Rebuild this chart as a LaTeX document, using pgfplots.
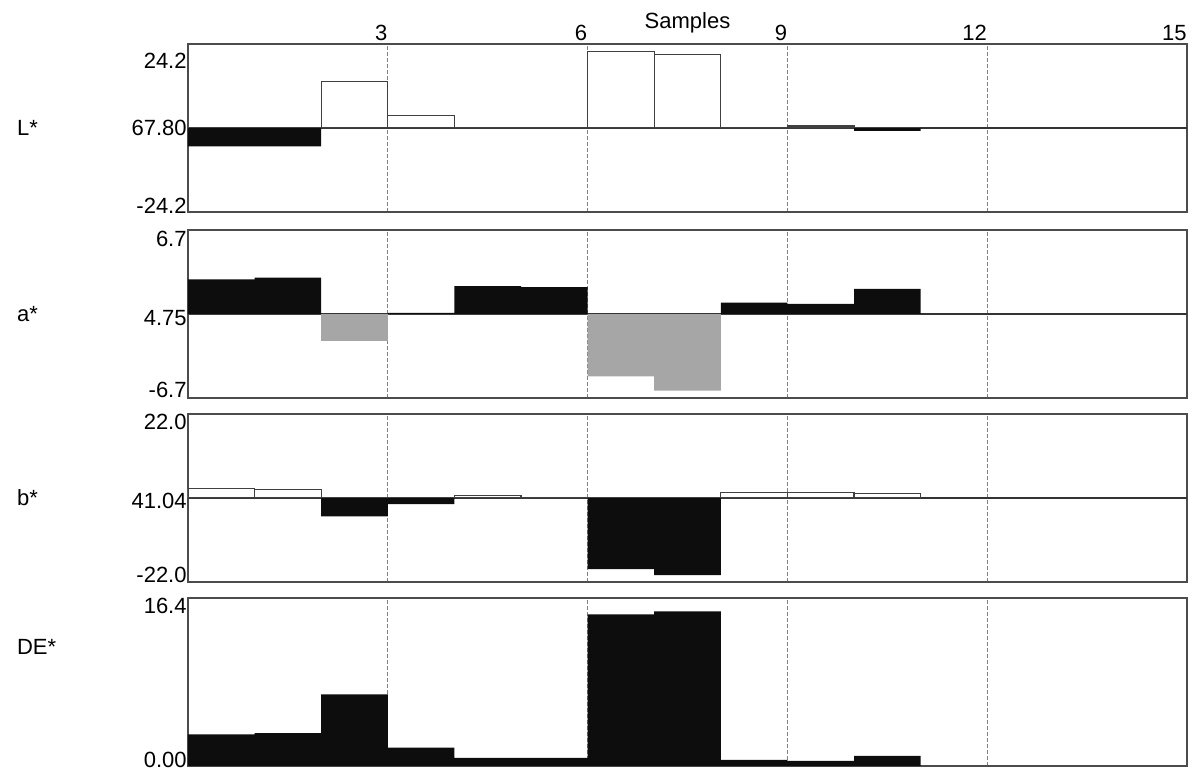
\documentclass[border=0pt]{standalone}
\usepackage{pgfplots}
\pgfplotsset{compat=1.18}
\usepackage{fontspec}
\setmainfont{Liberation Sans}
\newcommand{\tl}[2]{\smash{\raisebox{\dimexpr#1-3.9pt\relax}{#2}}}
\pgfplotsset{
  panel/.style={
    scale only axis, width=499.5pt, height=84pt,
    xmin=0, xmax=15,
    xtick={3,6,9,12,15}, xticklabels={},
    major tick length=0pt,
    xmajorgrids,
    major grid style={gray, line width=0.45pt, dash pattern=on 2pt off 1pt},
    axis line style={gray!60!black, line width=0.7pt},
    tick label style={font=\fontsize{11}{13}\selectfont},
    yticklabel style={inner sep=0pt, anchor=east, xshift=-0.5pt},
    every axis y label/.style={at={(rel axis cs:0,0.5)}, anchor=west, xshift=-89pt, font=\fontsize{11}{13}\selectfont},
  },
  zline/.style={gray!40!black, line width=0.8pt},
  bardark/.style={ybar interval, fill=black!95, draw=none},
  barwhite/.style={ybar interval, fill=white, draw=black!75, line width=0.6pt},
  bargray/.style={ybar interval, fill=gray!70, draw=none},
}
\begin{document}
\begin{tikzpicture}
\useasboundingbox (-94pt,22pt) rectangle (502pt,-363.5pt);
% L*
\begin{axis}[panel, at={(0pt,0pt)}, anchor=north west,
  ymin=-24.2, ymax=24.2,
  ytick={-24.2,0,24.2}, yticklabels={\tl{3.3pt}{-24.2},\tl{0pt}{67.80},\tl{-8.5pt}{24.2}},
  xticklabel pos=upper, xticklabels={3,6,9,12,15},
  xticklabel style={anchor=south east, inner sep=0pt, yshift=1.5pt},
  xlabel={Samples}, xlabel style={at={(rel axis cs:0.5,1)}, anchor=base, yshift=7.9pt, font=\fontsize{11}{13}\selectfont},
  ylabel={L*}]
\addplot[zline] coordinates {(0,0) (15,0)};
\addplot[barwhite] coordinates {(0,0) (1,0) (2,13.4) (3,3.7) (4,0.2) (5,0.2) (6,22.0) (7,21.1) (8,0.2) (9,0.6) (10,0) (11,0)};
\addplot[bardark] coordinates {(0,-5.3) (1,-5.3) (2,0) (3,0) (4,0) (5,0) (6,0) (7,0) (8,0) (9,0) (10,-0.8) (11,0)};
\end{axis}
% a*
\begin{axis}[panel, at={(0pt,-93pt)}, anchor=north west,
  ymin=-6.7, ymax=6.7,
  ytick={-6.7,0,6.7}, yticklabels={\tl{4.2pt}{-6.7},\tl{-2pt}{4.75},\tl{-4.2pt}{6.7}},
  ylabel={a*}]
\addplot[zline] coordinates {(0,0) (15,0)};
\addplot[bardark] coordinates {(0,2.77) (1,2.9) (2,0) (3,0.1) (4,2.23) (5,2.15) (6,0) (7,0) (8,0.9) (9,0.8) (10,2.0) (11,0)};
\addplot[bargray] coordinates {(0,0) (1,0) (2,-2.15) (3,0) (4,0) (5,0) (6,-4.97) (7,-6.12) (8,0) (9,0) (10,0) (11,0)};
\end{axis}
% b*
\begin{axis}[panel, at={(0pt,-185pt)}, anchor=north west,
  ymin=-22.0, ymax=22.0,
  ytick={-22.0,0,22.0}, yticklabels={\tl{3.7pt}{-22.0},\tl{-1.5pt}{41.04},\tl{-3.9pt}{22.0}},
  ylabel={b*}]
\addplot[zline] coordinates {(0,0) (15,0)};
\addplot[barwhite] coordinates {(0,2.4) (1,2.3) (2,0) (3,0) (4,0.6) (5,0.2) (6,0) (7,0) (8,1.5) (9,1.4) (10,1.2) (11,0)};
\addplot[bardark] coordinates {(0,0) (1,0) (2,-4.8) (3,-1.6) (4,0) (5,0) (6,-18.6) (7,-20.2) (8,0) (9,0) (10,0) (11,0)};
\end{axis}
% DE*
\begin{axis}[panel, at={(0pt,-277pt)}, anchor=north west,
  ymin=0, ymax=16.4,
  ytick={0,16.4}, yticklabels={\tl{3.4pt}{0.00},\tl{-3.9pt}{16.4}},
  ylabel={DE*}, ylabel style={at={(rel axis cs:0,0.71)}}]
\addplot[bardark] coordinates {(0,3.1) (1,3.2) (2,7.0) (3,1.8) (4,0.8) (5,0.8) (6,14.8) (7,15.1) (8,0.6) (9,0.5) (10,1.0) (11,0)};
\end{axis}
\end{tikzpicture}
\end{document}
